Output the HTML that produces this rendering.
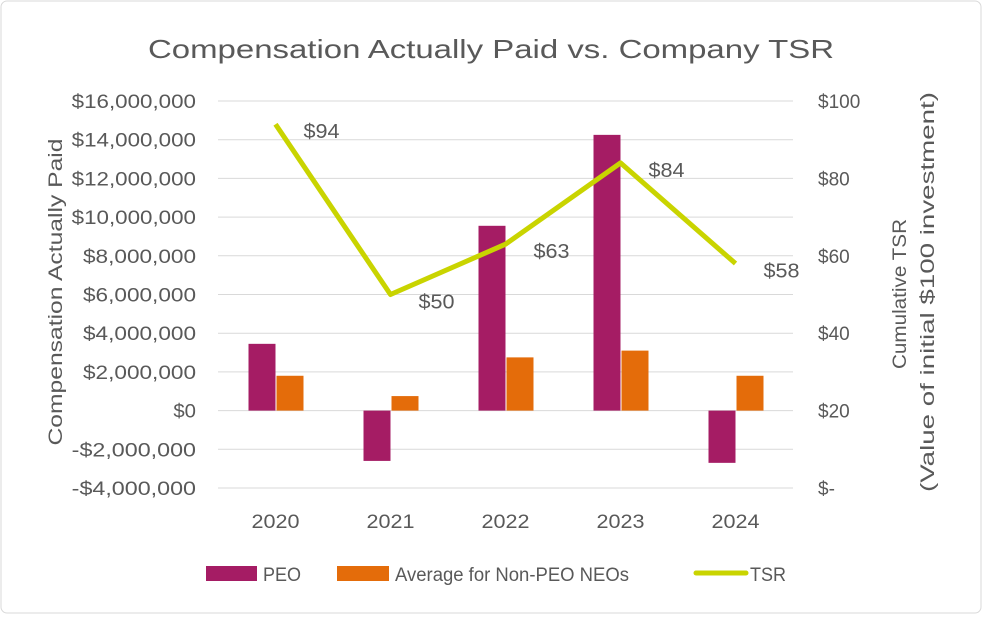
<!DOCTYPE html>
<html><head><meta charset="utf-8"><style>
body{margin:0;background:#fff;}
svg text{font-family:"Liberation Sans",sans-serif;fill:#595959;}
</style></head><body>
<svg id="chart" width="982" height="614" xmlns="http://www.w3.org/2000/svg">
<rect x="1" y="1" width="980" height="612" rx="6" fill="#fff" stroke="#d9d9d9"/>
<text x="148" y="58" font-size="26" textLength="686" lengthAdjust="spacingAndGlyphs">Compensation Actually Paid vs. Company TSR</text>
<g id="grid"></g><g id="bars"></g><g id="line"></g><g id="labels"></g>
<text transform="translate(62,292) rotate(-90)" font-size="19" text-anchor="middle" textLength="307" lengthAdjust="spacingAndGlyphs">Compensation Actually Paid</text>
<text transform="translate(906,294) rotate(-90)" font-size="19" text-anchor="middle" textLength="150" lengthAdjust="spacingAndGlyphs">Cumulative TSR</text>
<text transform="translate(934,292) rotate(-90)" font-size="19" text-anchor="middle" textLength="400" lengthAdjust="spacingAndGlyphs">(Value of initial $100 investment)</text>
<g>
<rect x="206" y="566" width="51" height="15" fill="#a51c64"/>
<text x="263" y="581" font-size="19" textLength="38" lengthAdjust="spacingAndGlyphs">PEO</text>
<rect x="337" y="566" width="52" height="15" fill="#e46c0a"/>
<text x="395" y="581" font-size="19" textLength="234" lengthAdjust="spacingAndGlyphs">Average for Non-PEO NEOs</text>
<line x1="696" y1="573" x2="746" y2="573" stroke="#c9d400" stroke-width="5" stroke-linecap="round"/>
<text x="750" y="581" font-size="19" textLength="36" lengthAdjust="spacingAndGlyphs">TSR</text>
</g>
</svg>
<script>
const categories=["2020","2021","2022","2023","2024"];
const peo=[3450000,-2600000,9550000,14250000,-2700000];
const neo=[1800000,750000,2750000,3100000,1800000];
const tsr=[94,50,63,84,58];
const leftTicks=[-4000000,-2000000,0,2000000,4000000,6000000,8000000,10000000,12000000,14000000,16000000];
const rightTicks=[0,20,40,60,80,100];
const ns="http://www.w3.org/2000/svg";
const top_=101,bot=488,x0=218,x1=793;
const yL=v=>bot-(v+4000000)/20000000*(bot-top_);
const yR=v=>bot-v/100*(bot-top_);
const band=(x1-x0)/categories.length;
const xC=i=>x0+band*(i+0.5);
function mk(t,a,p){const e=document.createElementNS(ns,t);for(const k in a)e.setAttribute(k,a[k]);p.appendChild(e);return e;}
const g=document.getElementById('grid'),b=document.getElementById('bars'),l=document.getElementById('line'),lb=document.getElementById('labels');
const fmt=v=>(v<0?"-":"")+"$"+Math.abs(v).toLocaleString("en-US");
leftTicks.forEach(v=>{
 const ln=mk('line',{x1:x0,x2:x1,y1:yL(v),y2:yL(v),stroke:'#d9d9d9','stroke-width':1},g);
 
 
 const s=fmt(v);
 const t=mk('text',{x:196,y:yL(v)+7,'font-size':19,'text-anchor':'end',textLength:s.length*11.3,lengthAdjust:'spacingAndGlyphs'},g);t.textContent=s;
 
 
});
rightTicks.forEach(v=>{
 const t=mk('text',{x:818,y:yR(v)+7,'font-size':19},g);t.textContent=v===0?"$-":"$"+v;
 
 
});
const bw=27;
categories.forEach((c,i)=>{
 const cx=xC(i);
 const t=mk('text',{x:cx,y:528,'font-size':19,'text-anchor':'middle',textLength:48,lengthAdjust:'spacingAndGlyphs'},g);t.textContent=c;
 
 
 const y0=yL(0);
 let r=mk('rect',{x:cx-bw,y:Math.min(y0,yL(peo[i])),width:bw,height:Math.abs(yL(peo[i])-y0),fill:'#a51c64'},b);
 
 
 r=mk('rect',{x:cx+1,y:Math.min(y0,yL(neo[i])),width:bw,height:Math.abs(yL(neo[i])-y0),fill:'#e46c0a'},b);
 
 
 const tl=mk('text',{x:cx+28,y:yR(tsr[i])+14,'font-size':20,textLength:36,lengthAdjust:'spacingAndGlyphs'},lb);tl.textContent="$"+tsr[i];
 
 
});
const pl=mk('polyline',{points:tsr.map((v,i)=>xC(i)+","+yR(v)).join(" "),fill:'none',stroke:'#c9d400','stroke-width':5,'stroke-linejoin':'round'},l);


</script>
</body></html>
